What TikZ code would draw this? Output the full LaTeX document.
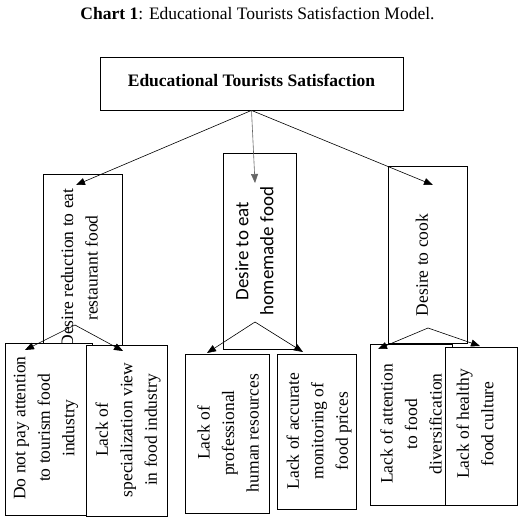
\documentclass[tikz,border=0pt]{standalone}
\usepackage{fontspec}
\setmainfont{Liberation Serif}
\newfontfamily\carl{Carlito}
\usetikzlibrary{arrows.meta}
\tikzset{
  box/.style={draw, line width=0.8pt, fill=white, inner sep=0pt},
  arr/.style={-{Triangle[length=9pt,width=7pt]}, line width=0.6pt},
  txt/.style={rotate=90, align=center, inner sep=0pt, font=\fontsize{17.5}{24.5}\selectfont},
  stxt/.style={rotate=90, align=center, inner sep=0pt, font=\carl\fontsize{19}{25}\selectfont}
}
\begin{document}
\begin{tikzpicture}[x=1pt,y=-1pt]
\useasboundingbox (0,0) rectangle (528,525);
\node[font=\fontsize{17.5}{21}\selectfont] (title) at (257.5,13) {\textbf{Chart 1}: Educational Tourists Satisfaction Model.};
\node[box, minimum width=303pt, minimum height=53pt] (top) at (251.5,83.5) {};
\node[font=\bfseries\fontsize{17.5}{21}\selectfont] (toptxt) at (251.5,80) {Educational Tourists Satisfaction};
% middle boxes
\node[box, minimum width=79pt, minimum height=171pt] (b1) at (82.5,259.5) {};
\node[txt] (b1t) at (79.5,268) {Desire reduction to eat\\restaurant food};
\node[box, minimum width=73pt, minimum height=196pt] (b2) at (259.5,251) {};
\node[stxt] (b2t) at (254.5,251) {Desire to eat\\homemade food};
\node[box, minimum width=79pt, minimum height=177pt] (b3) at (427.5,254.5) {};
\node[txt] (b3t) at (422,265) {Desire to cook};
% bottom boxes
\node[box, minimum width=87pt, minimum height=172pt] (A) at (48.5,429) {};
\node[txt] (At) at (46,428) {Do not pay attention\\to tourism food\\industry};
\node[box, minimum width=81pt, minimum height=171pt] (B) at (126.5,430.5) {};
\node[txt] (Bt) at (128,430) {Lack of\\specialization view\\in food industry};
\node[box, minimum width=84pt, minimum height=159pt] (C) at (227,433.5) {};
\node[txt] (Ct) at (228,433) {Lack of\\professional\\human resources};
\node[box, minimum width=79pt, minimum height=155pt] (D) at (316.5,431.5) {};
\node[txt] (Dt) at (319,431) {Lack of accurate\\monitoring of\\food prices};
\node[box, minimum width=82pt, minimum height=161pt] (E) at (411,424.5) {};
\node[txt] (Et) at (411,424) {Lack of attention\\to food\\diversification};
\node[box, minimum width=72pt, minimum height=158pt] (F) at (481,426) {};
\node[txt] (Ft) at (475,424) {Lack of healthy\\food culture};
% connector points
\coordinate (t1) at (76,185);
\coordinate (t2) at (255,183);
\coordinate (t3) at (433,185);
\coordinate (o1) at (75,325);
\coordinate (o2) at (255,322);
\coordinate (o3) at (428,328);
\coordinate (tA) at (25,350);
\coordinate (tB) at (123,351);
\coordinate (tC) at (207,353);
\coordinate (tD) at (303,352);
\coordinate (tE) at (378,349);
\coordinate (tF) at (480,346);
\draw[arr] (top.south) -- (t1);
\draw[arr, draw=black!60] (top.south) -- (t2);
\draw[arr] (top.south) -- (t3);
\draw[arr] (o1) -- (tA);
\draw[arr] (o1) -- (tB);
\draw[arr] (o2) -- (tC);
\draw[arr] (o2) -- (tD);
\draw[arr] (o3) -- (tE);
\draw[arr] (o3) -- (tF);
\end{tikzpicture}
\end{document}
